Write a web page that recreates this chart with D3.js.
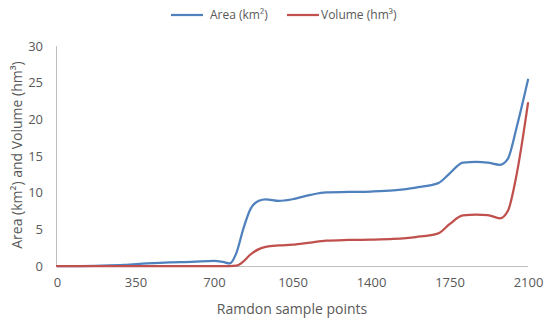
<!DOCTYPE html>
<html>
<head>
<meta charset="utf-8">
<script src="https://cdn.jsdelivr.net/npm/d3@7"></script>
<style>
  html, body { margin: 0; padding: 0; background: #fff; }
  svg { display: block; }
</style>
</head>
<body>
<svg id="chart" width="550" height="324"></svg>
<script>
// ---- data ----
const samplePoints = [0, 100, 200, 300, 400, 500, 600, 700, 740, 770, 800, 830, 860, 900, 930, 990, 1050, 1130, 1200, 1300, 1400, 1500, 1600, 1700, 1750, 1810, 1870, 1920, 1975, 2010, 2050, 2100];
const areaValues = [0, 0, 0.05, 0.15, 0.35, 0.5, 0.55, 0.7, 0.55, 0.35, 1.8, 5.0, 7.6, 8.9, 9.1, 8.87, 9.1, 9.7, 10.05, 10.1, 10.15, 10.3, 10.7, 11.3, 12.6, 14.1, 14.2, 14.1, 13.8, 14.6, 19.0, 25.4];
const volumeValues = [0, 0, 0, 0, 0, 0, 0, 0, 0, 0, 0.05, 0.6, 1.5, 2.3, 2.6, 2.8, 2.9, 3.2, 3.45, 3.55, 3.6, 3.7, 3.95, 4.45, 5.7, 6.9, 7.0, 6.95, 6.5, 7.5, 12.6, 22.2];
const xTicks = [0, 350, 700, 1050, 1400, 1750, 2100];
const yTicks = [0, 5, 10, 15, 20, 25, 30];
const seriesNames = ["Area (km²)", "Volume (hm³)"];
const seriesColors = ["#4F81BD", "#C0504D"];

// ---- layout ----
const svg = d3.select("#chart");
const margin = { left: 57, right: 22, top: 46, bottom: 58 };
const W = 550, H = 324;
const font = "'Open Sans', 'Liberation Sans', sans-serif";
const textColor = "#595959";

const x = d3.scaleLinear().domain([0, 2100]).range([margin.left, W - margin.right]);
const y = d3.scaleLinear().domain([0, 30]).range([H - margin.bottom, margin.top]);

// axes lines
svg.append("line")
  .attr("x1", x(0) - 0.5).attr("x2", x(0) - 0.5)
  .attr("y1", y(30)).attr("y2", y(0))
  .attr("stroke", "#BFBFBF").attr("stroke-width", 1);
svg.append("line")
  .attr("x1", x(0)).attr("x2", x(2100))
  .attr("y1", y(0) + 0.5).attr("y2", y(0) + 0.5)
  .attr("stroke", "#BFBFBF").attr("stroke-width", 1);

// x axis labels
const xAxis = d3.axisBottom(x).tickValues(xTicks).tickSize(0).tickPadding(12).tickFormat(d3.format("d"));
const gx = svg.append("g").attr("transform", `translate(0,${y(0)})`).call(xAxis);
gx.select(".domain").remove();
gx.selectAll("text").attr("font-family", font).attr("font-size", 13).attr("fill", textColor);

// y axis labels
const yAxis = d3.axisLeft(y).tickValues(yTicks).tickSize(0).tickPadding(14).tickFormat(d3.format("d"));
const gy = svg.append("g").attr("transform", `translate(${x(0)},0)`).call(yAxis);
gy.select(".domain").remove();
gy.selectAll("text").attr("font-family", font).attr("font-size", 13).attr("fill", textColor);

// titles
svg.append("text")
  .attr("x", 292).attr("y", 314)
  .attr("text-anchor", "middle")
  .attr("font-family", font).attr("font-size", 14).attr("fill", textColor)
  .text("Ramdon sample points");
svg.append("text")
  .attr("transform", `translate(22,${(y(0) + y(30)) / 2 - 1}) rotate(-90)`)
  .attr("text-anchor", "middle")
  .attr("font-family", font).attr("font-size", 14).attr("fill", textColor)
  .text("Area (km²) and Volume (hm³)");

// lines
const series = [areaValues, volumeValues];
const line = d3.line()
  .x((d, i) => x(samplePoints[i]))
  .y(d => y(d))
  .curve(d3.curveMonotoneX);

series.forEach((vals, k) => {
  svg.append("path")
    .datum(vals)
    .attr("d", line)
    .attr("fill", "none")
    .attr("stroke", seriesColors[k])
    .attr("stroke-width", 2.25)
    .attr("stroke-linejoin", "round")
    .attr("stroke-linecap", "round");
});

// legend
const legendItems = [
  { lx: 171, tx: 210 },
  { lx: 287, tx: 321 }
];
legendItems.forEach((it, k) => {
  svg.append("line")
    .attr("x1", it.lx).attr("x2", it.lx + 32)
    .attr("y1", 15).attr("y2", 15)
    .attr("stroke", seriesColors[k]).attr("stroke-width", 2.25);
  svg.append("text")
    .attr("x", it.tx).attr("y", 19)
    .attr("font-family", font).attr("font-size", 12).attr("fill", textColor)
    .text(seriesNames[k]);
});
</script>
</body>
</html>
